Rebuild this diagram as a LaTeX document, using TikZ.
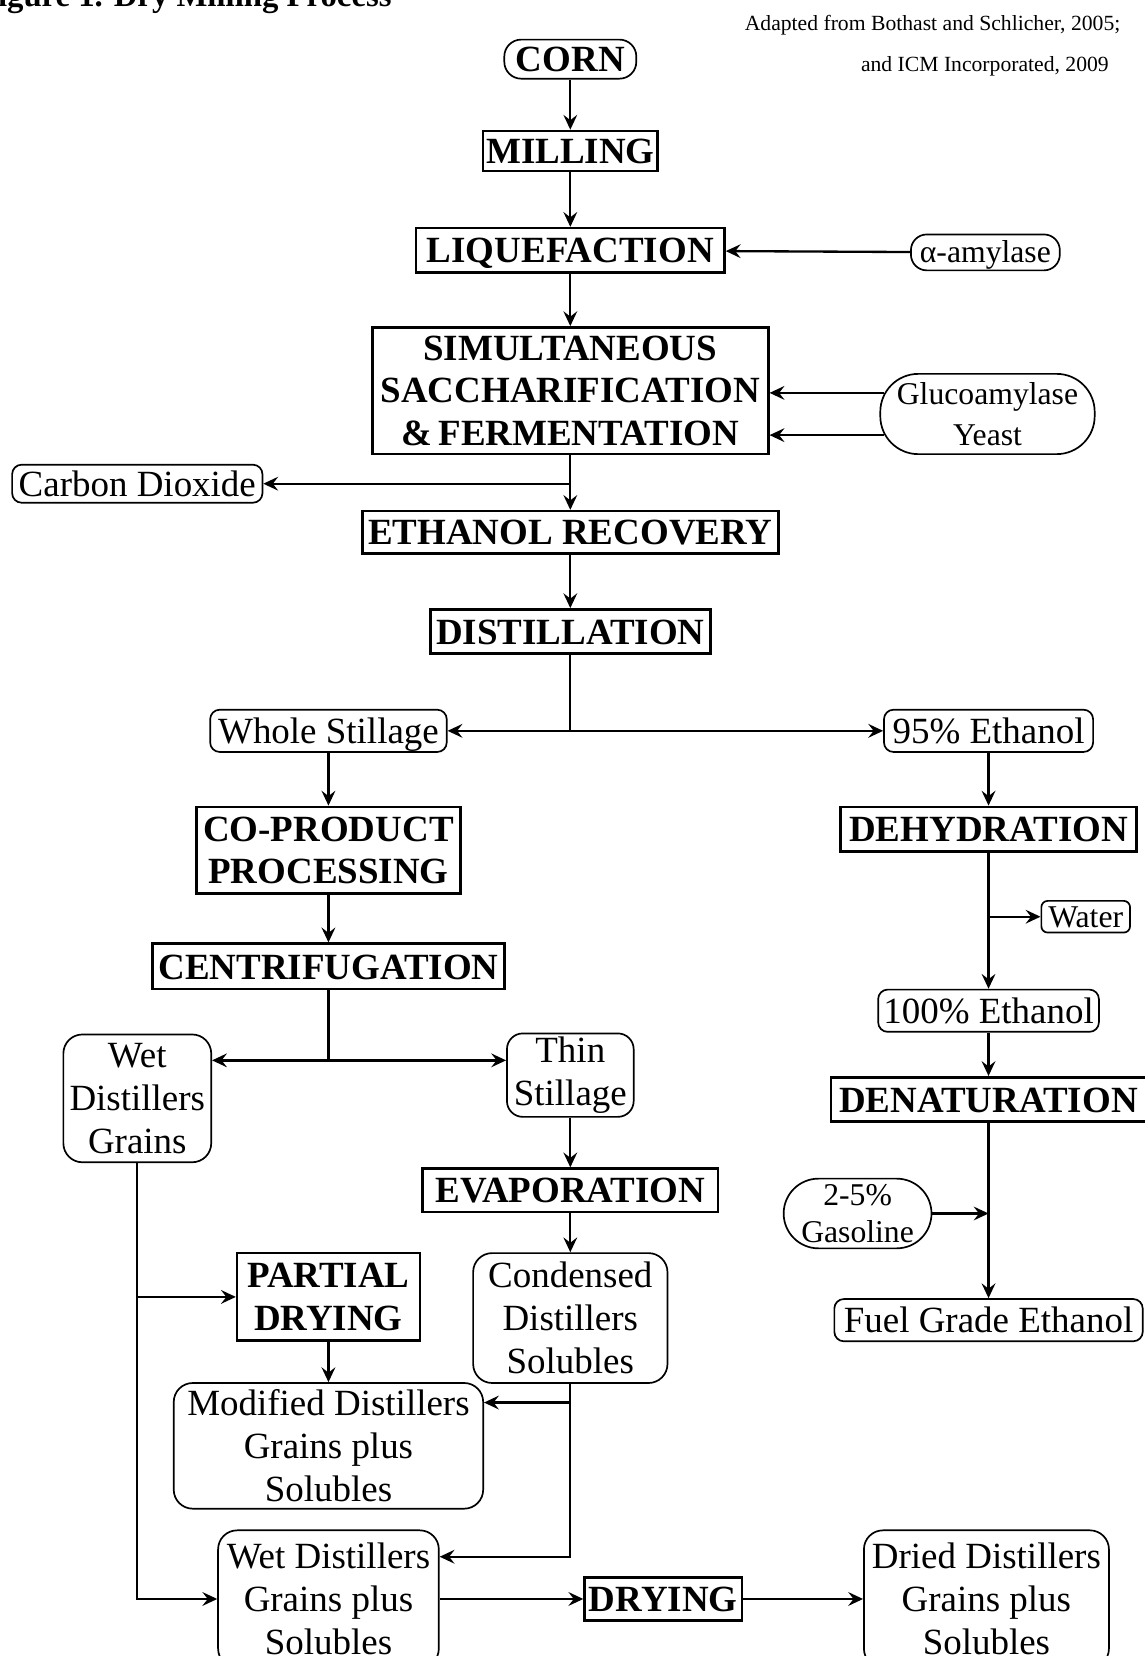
\documentclass[tikz,border=0pt]{standalone}
\usepackage{fontspec}
\setmainfont{Liberation Serif}
\usetikzlibrary{arrows.meta}
\newcommand\myproc{\fontsize{35}{40}\selectfont\bfseries}
\newcommand\myitem{\fontsize{35}{40.5}\selectfont}
\newcommand\mysmall{\fontsize{30}{39}\selectfont}
\newcommand\mycredit{\fontsize{20.5}{25}\selectfont}
\newcommand\mytitle{\fontsize{31}{36}\selectfont\bfseries}
\tikzset{
  proc/.style={draw, line width=2.4pt, font=\myproc, inner sep=0pt, align=center},
  item/.style={draw, line width=1.6pt, rounded corners=9pt, font=\myitem, inner sep=0pt, align=center},
  smallitem/.style={item, font=\mysmall},
  oneline/.style={text height=29pt, text depth=5pt},
  smallline/.style={text height=25pt, text depth=5pt},
  arr/.style={line width=2.2pt, -{Stealth[length=14pt,width=13pt,inset=5pt]}},
  ln/.style={line width=2.2pt}
}
\begin{document}
\begin{tikzpicture}[x=1pt,y=-1pt]
\useasboundingbox (0,0) rectangle (1084,1568);
\clip (0,0) rectangle (1084,1568);

% titles
\node[anchor=base west, font=\mytitle, inner sep=0pt] (title) at (-21,6.6) {Figure 1. Dry Milling Process};
\node[anchor=base east, font=\mycredit, inner sep=0pt] (cr1) at (1061,29) {Adapted from Bothast and Schlicher, 2005;};
\node[anchor=base east, font=\mycredit, inner sep=0pt] (cr2) at (1050,68) {and ICM Incorporated, 2009};

% main column
\node[item, oneline, font=\myproc, rounded corners=16pt, minimum width=125, minimum height=37] (corn) at (540,56) {CORN};
\node[proc, oneline, minimum width=165, minimum height=38] (mill) at (540,143) {MILLING};
\node[proc, oneline, minimum width=292, minimum height=42] (liq) at (540,237) {LIQUEFACTION};
\node[smallitem, smallline, rounded corners=15pt, minimum width=141, minimum height=34] (amyl) at (933,239) {α-amylase};
\node[proc, minimum width=375, minimum height=120] (ssf) at (540,370) {SIMULTANEOUS\\SACCHARIFICATION\\\&\,FERMENTATION};
\node[smallitem, rounded corners=36pt, minimum width=203, minimum height=76] (gluco) at (935,392) {Glucoamylase\\Yeast};
\node[item, oneline, minimum width=237, minimum height=36] (co2) at (130,458) {Carbon Dioxide};
\node[proc, oneline, minimum width=394, minimum height=40] (er) at (540,504) {ETHANOL RECOVERY};
\node[proc, oneline, minimum width=265, minimum height=42] (dist) at (540,598) {DISTILLATION};

% left branch
\node[item, oneline, minimum width=224, minimum height=40] (ws) at (311,692) {Whole Stillage};
\node[proc, minimum width=250, minimum height=82] (cop) at (311,805) {CO-PRODUCT\\PROCESSING};
\node[proc, oneline, minimum width=333, minimum height=43] (cent) at (311,915) {CENTRIFUGATION};
\node[item, rounded corners=18pt, minimum width=140, minimum height=121] (wdg) at (130,1040) {Wet\\Distillers\\Grains};
\node[item, rounded corners=15pt, minimum width=120, minimum height=79] (thin) at (540,1018) {Thin\\Stillage};
\node[proc, oneline, minimum width=280, minimum height=41] (evap) at (540,1127) {EVAPORATION};
\node[proc, minimum width=173, minimum height=83] (pd) at (311,1228) {PARTIAL\\DRYING};
\node[item, rounded corners=18pt, minimum width=184, minimum height=123] (cds) at (540,1248) {Condensed\\Distillers\\Solubles};
\node[item, rounded corners=18pt, minimum width=293, minimum height=119] (mdg) at (311,1369) {Modified Distillers\\Grains plus\\Solubles};
\node[item, rounded corners=18pt, minimum width=209, minimum height=130] (wdgs) at (311,1514) {Wet Distillers\\Grains plus\\Solubles};
\node[proc, oneline, minimum width=149, minimum height=41] (dry) at (628,1514) {DRYING};
\node[item, rounded corners=18pt, minimum width=232, minimum height=130] (ddgs) at (934,1514) {Dried Distillers\\Grains plus\\Solubles};

% right branch
\node[item, oneline, minimum width=198, minimum height=40] (e95) at (936,692) {95\% Ethanol};
\node[proc, oneline, minimum width=280, minimum height=42] (dehy) at (936,785) {DEHYDRATION};
\node[smallitem, smallline, rounded corners=6pt, minimum width=84, minimum height=30] (water) at (1028,868) {Water};
\node[item, oneline, minimum width=209, minimum height=40] (e100) at (936,957) {100\% Ethanol};
\node[proc, oneline, minimum width=298, minimum height=42] (denat) at (936,1041) {DENATURATION};
\node[smallitem, font=\fontsize{30}{35}\selectfont, rounded corners=33pt, minimum width=140, minimum height=66] (gas) at (812,1149) {2-5\%\\Gasoline};
\node[item, oneline, minimum width=292, minimum height=40] (fge) at (936,1250) {Fuel Grade Ethanol};

% connectors, main column
\draw[arr] (corn) -- (mill);
\draw[arr] (mill) -- (liq);
\draw[arr] (amyl) -- (liq);
\draw[arr] (liq) -- (ssf);
\draw[arr] ([xshift=4pt]gluco.west |- 0,372) -- (ssf.east |- 0,372);
\draw[arr] ([xshift=4pt]gluco.west |- 0,412) -- (ssf.east |- 0,412);
\draw[arr] (ssf) -- (er);
\coordinate (cob) at (540,458);
\draw[arr] (cob) -- (co2.east);
\draw[arr] (er) -- (dist);
\draw[arr] (dist.south) |- (ws.east);
\draw[arr] (dist.south) |- (e95.west);

% left branch connectors
\draw[arr] (ws) -- (cop);
\draw[arr] (cop) -- (cent);
\coordinate (cb) at (311,1004);
\draw[ln] (cent.south) -- (cb);
\draw[arr] (cb) -- (cb -| wdg.east);
\draw[arr] (cb) -- (cb -| thin.west);
\draw[arr] (thin) -- (evap);
\draw[arr] (evap) -- (cds);
\draw[arr] (wdg.south) |- (wdgs.west);
\draw[arr] (wdg.south |- pd.west) -- (pd.west);
\draw[arr] (pd) -- (mdg);
\coordinate (c1) at (540,1328);
\coordinate (c2) at (540,1474);
\draw[arr] (cds.south) -- (c2) -- (c2 -| wdgs.east);
\draw[arr] (c1) -- (c1 -| mdg.east);
\draw[arr] (wdgs) -- (dry);
\draw[arr] (dry) -- (ddgs);

% right branch connectors
\draw[arr] (e95) -- (dehy);
\draw[arr] (dehy) -- (e100);
\draw[arr] (dehy.south |- water.west) -- (water.west);
\draw[arr] (e100) -- (denat);
\draw[arr] (denat) -- (fge);
\draw[arr] (gas.east) -- (gas.east -| denat.south);
\end{tikzpicture}
\end{document}
